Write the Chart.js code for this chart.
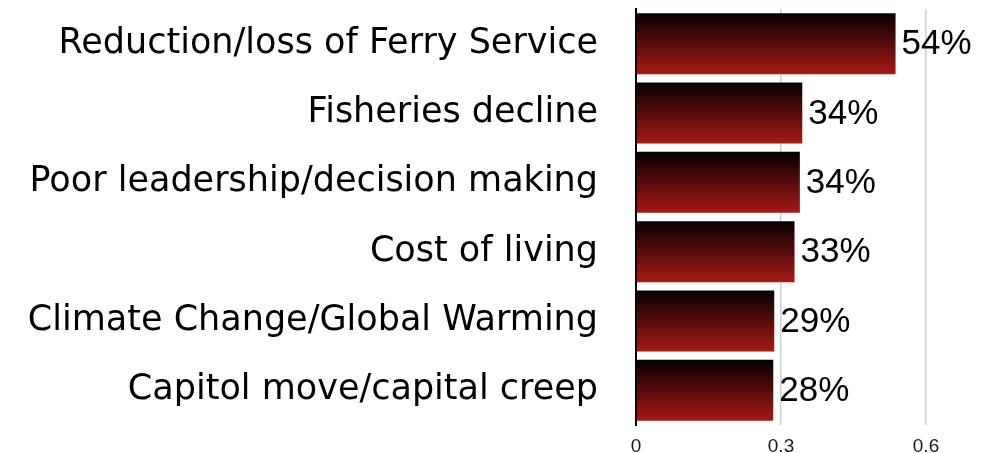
<!DOCTYPE html>
<html>
<head>
<meta charset="utf-8">
<script src="https://cdn.jsdelivr.net/npm/chart.js@4"></script>
<style>
  body { margin: 0; background: #fff; }
  #wrap { width: 995px; height: 453px; }
</style>
</head>
<body>
<div id="wrap"><canvas id="chartIssues"></canvas></div>
<script>
// data
const categories = [
    "Reduction/loss of Ferry Service",
    "Fisheries decline",
    "Poor leadership/decision making",
    "Cost of living",
    "Climate Change/Global Warming",
    "Capitol move/capital creep"
];
const shares = [0.537, 0.344, 0.339, 0.328, 0.286, 0.284];
const xTicks = [0, 0.3, 0.6];

const BAR_PCT = 0.88;

// gradient per bar, black on top to red at the bottom
const barGradient = (ctx) => {
    const chart = ctx.chart;
    const yScale = chart.scales.y;
    if (!chart.chartArea || !yScale) return "#8e1512";
    const mid = yScale.getPixelForValue(ctx.dataIndex);
    const half = (chart.chartArea.height / categories.length) * BAR_PCT / 2;
    const g = chart.ctx.createLinearGradient(0, mid - half, 0, mid + half);
    g.addColorStop(0, "#050000");
    g.addColorStop(1, "#a81a16");
    return g;
};

// percent text right after each bar
const valueLabels = {
    id: "valueLabels",
    afterDatasetsDraw(chart) {
        const c = chart.ctx;
        const meta = chart.getDatasetMeta(0);
        c.save();
        c.font = "35px 'Liberation Sans', Helvetica, Arial, sans-serif";
        c.fillStyle = "#000";
        c.textAlign = "left";
        c.textBaseline = "middle";
        meta.data.forEach((bar, i) => {
            c.fillText(Math.round(shares[i] * 100) + "%", bar.x + 6, bar.y + 1);
        });
        c.restore();
    }
};

new Chart(document.getElementById("chartIssues").getContext("2d"), {
    type: "bar",
    data: {
        labels: categories,
        datasets: [{
            data: shares,
            backgroundColor: barGradient,
            borderWidth: 0,
            barPercentage: BAR_PCT,
            categoryPercentage: 1
        }]
    },
    options: {
        indexAxis: "y",
        responsive: true,
        maintainAspectRatio: false,
        animation: false,
        layout: { padding: { top: 9, right: 69, left: 0, bottom: 0 } },
        plugins: {
            legend: { display: false },
            tooltip: { enabled: false }
        },
        scales: {
            x: {
                min: 0,
                max: 0.6,
                afterBuildTicks: (scale) => {
                    scale.ticks = xTicks.map(v => ({ value: v }));
                },
                afterFit: (scale) => { scale.height = 28; },
                grid: {
                    color: (ctx) => ctx.tick && ctx.tick.value === 0 ? "rgba(0,0,0,0)" : "#cfcfcf",
                    lineWidth: 1.5,
                    drawTicks: false
                },
                border: { display: false },
                ticks: {
                    padding: 10,
                    color: "#1a1a1a",
                    font: { family: "'Liberation Sans', Helvetica, Arial, sans-serif", size: 19 },
                    callback: (v) => String(v)
                }
            },
            y: {
                // keep the label gap from padding the chart top/bottom
                afterFit: (scale) => {
                    scale.width = 636;
                    scale.paddingTop = 0;
                    scale.paddingBottom = 0;
                },
                grid: { display: false, drawTicks: false },
                border: { display: true, color: "#000", width: 2 },
                ticks: {
                    padding: 38,
                    color: "#000",
                    font: { family: "'DejaVu Sans', sans-serif", size: 35 }
                }
            }
        }
    },
    plugins: [valueLabels]
});
</script>
</body>
</html>
